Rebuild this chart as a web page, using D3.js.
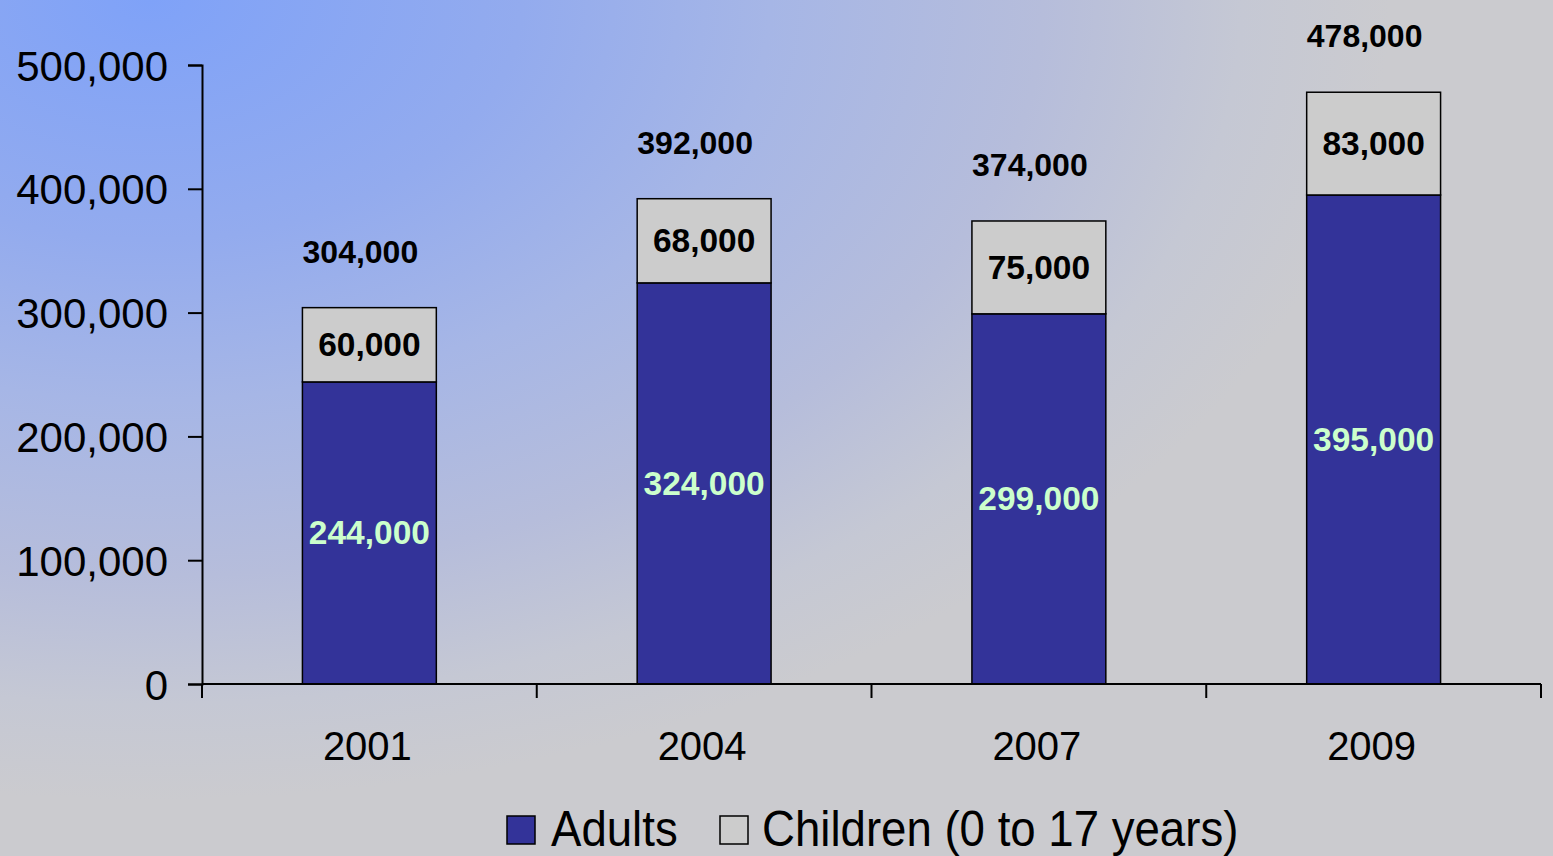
<!DOCTYPE html>
<html>
<head>
<meta charset="utf-8">
<script src="https://cdn.jsdelivr.net/npm/d3@7"></script>
<style>
  html, body { margin: 0; padding: 0; }
  body { width: 1553px; height: 856px; overflow: hidden; }
  svg { display: block; font-family: "Liberation Sans", Arial, sans-serif; }
</style>
</head>
<body>
<svg id="chart" width="1553" height="856"></svg>
<script>
const years = ["2001", "2004", "2007", "2009"];
const adults = [244000, 324000, 299000, 395000];
const children = [60000, 68000, 75000, 83000];
const totals = [304000, 392000, 374000, 478000];
const yTicks = [0, 100000, 200000, 300000, 400000, 500000];
const seriesNames = ["Adults", "Children (0 to 17 years)"];
const seriesColors = ["#333399", "#cccccc"];

const svg = d3.select("#chart");
const W = 1553, H = 856;

// background gradient
const defs = svg.append("defs");
const grad = defs.append("radialGradient")
  .attr("id", "bg")
  .attr("gradientUnits", "userSpaceOnUse")
  .attr("cx", 150).attr("cy", 0).attr("r", 800)
  .attr("gradientTransform", "translate(150,0) scale(1.55,1) translate(-150,0)");
[[0, "#7fa2f8"], [0.3, "#93abee"], [0.5, "#a6b6e6"], [0.72, "#b6bddb"], [0.88, "#c5c8d4"], [1, "#cbcbcf"]]
  .forEach(([o, c]) => grad.append("stop").attr("offset", o).attr("stop-color", c));
svg.append("rect").attr("width", W).attr("height", H).attr("fill", "url(#bg)");

const x = d3.scaleBand().domain(years).range([202, 1541]).paddingInner(0.6).paddingOuter(0.3);
const y = d3.scaleLinear().domain([0, 500000]).range([684, 65]);

const stackData = years.map((yr, i) => ({ year: yr, Adults: adults[i], Children: children[i], total: totals[i] }));
const stack = d3.stack().keys(["Adults", "Children"])(stackData);

// bars
const layers = svg.append("g").selectAll("g").data(stack).join("g")
  .attr("fill", (d, i) => seriesColors[i]);
layers.selectAll("rect").data(d => d).join("rect")
  .attr("x", d => x(d.data.year))
  .attr("width", x.bandwidth())
  .attr("y", d => y(d[1]))
  .attr("height", d => y(d[0]) - y(d[1]))
  .attr("stroke", "#000").attr("stroke-width", 1.5);

// segment labels
svg.append("g").selectAll("text").data(stack[0]).join("text")
  .attr("x", d => x(d.data.year) + x.bandwidth() / 2)
  .attr("y", d => (y(d[0]) + y(d[1])) / 2 + 11.5)
  .attr("text-anchor", "middle")
  .attr("font-size", 33.5).attr("font-weight", "bold")
  .attr("fill", "#ccffcc")
  .text(d => d3.format(",")(d.data.Adults));

svg.append("g").selectAll("text").data(stack[1]).join("text")
  .attr("x", d => x(d.data.year) + x.bandwidth() / 2)
  .attr("y", d => (y(d[0]) + y(d[1])) / 2 + 11.5)
  .attr("text-anchor", "middle")
  .attr("font-size", 33.5).attr("font-weight", "bold")
  .attr("fill", "#000")
  .text(d => d3.format(",")(d.data.Children));

// total labels
svg.append("g").selectAll("text").data(stackData).join("text")
  .attr("x", d => x(d.year) + x.bandwidth() / 2 - 9)
  .attr("y", d => y(d.total) - 45)
  .attr("text-anchor", "middle")
  .attr("font-size", 32).attr("font-weight", "bold")
  .attr("fill", "#000")
  .text(d => d3.format(",")(d.total));

// y axis
const yAxis = d3.axisLeft(y).tickValues(yTicks).tickFormat(d3.format(",")).tickSize(14).tickPadding(20);
const gy = svg.append("g").attr("transform", "translate(202,0)").call(yAxis);
gy.select(".domain").attr("stroke", "#000").attr("stroke-width", 2);
gy.selectAll(".tick line").attr("stroke", "#000").attr("stroke-width", 2);
gy.selectAll(".tick text").attr("font-size", 42).attr("fill", "#000")
  .attr("font-family", "Liberation Sans, Arial, sans-serif").attr("dy", "0.36em");

// x axis: ticks at band boundaries
const step = x.step();
const gx = svg.append("g");
gx.append("line").attr("x1", 202).attr("x2", 1541).attr("y1", y(0)).attr("y2", y(0))
  .attr("stroke", "#000").attr("stroke-width", 2);
const edges = [x.range()[0]].concat(years.map(yr => x(yr) + x.bandwidth() + step * x.paddingInner() / 2));
edges[edges.length - 1] = x.range()[1];
gx.selectAll("line.tk").data(edges).join("line").attr("class", "tk")
  .attr("x1", d => d).attr("x2", d => d)
  .attr("y1", y(0)).attr("y2", y(0) + 14)
  .attr("stroke", "#000").attr("stroke-width", 2);
gx.selectAll("text").data(years).join("text")
  .attr("x", d => x(d) + x.bandwidth() / 2 - 2)
  .attr("y", 760)
  .attr("text-anchor", "middle")
  .attr("font-size", 40).attr("fill", "#000")
  .text(d => d);

// legend
const legend = svg.append("g");
const legendItems = [
  { name: seriesNames[0], color: seriesColors[0], sx: 507, tx: 551 },
  { name: seriesNames[1], color: seriesColors[1], sx: 720, tx: 762 }
];
legendItems.forEach(it => {
  legend.append("rect").attr("x", it.sx).attr("y", 816).attr("width", 28).attr("height", 28)
    .attr("fill", it.color).attr("stroke", "#000").attr("stroke-width", 1.5);
  legend.append("text")
    .attr("transform", `translate(${it.tx},846) scale(1,1.1)`)
    .attr("font-size", 45.6).attr("fill", "#000")
    .text(it.name);
});
</script>
</body>
</html>
